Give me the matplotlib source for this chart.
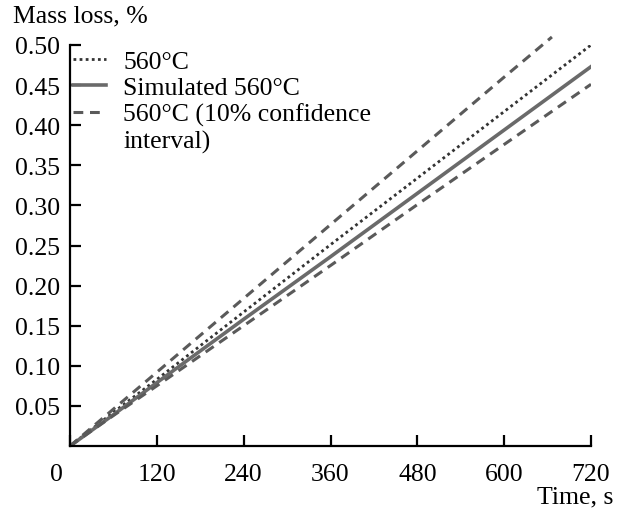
import matplotlib.pyplot as plt
from matplotlib.transforms import ScaledTranslation

plt.rcParams['font.family'] = ['Liberation Serif', 'DejaVu Serif']

# data
time_s = [0, 60, 120, 240, 360, 480, 600, 720]
exp_560 = [0.0, 0.042, 0.083, 0.167, 0.251, 0.334, 0.417, 0.500]
sim_560 = [0.0, 0.039, 0.079, 0.158, 0.236, 0.315, 0.394, 0.473]
time_upper = [0, 60, 120, 240, 360, 480, 600, 666]
upper_560 = [0.0, 0.046, 0.092, 0.184, 0.276, 0.368, 0.460, 0.510]
lower_560 = [0.0, 0.038, 0.075, 0.150, 0.225, 0.301, 0.376, 0.451]

xticks = [0, 120, 240, 360, 480, 600, 720]
yticks = [0.05, 0.10, 0.15, 0.20, 0.25, 0.30, 0.35, 0.40, 0.45, 0.50]

fs = 18.5

fig = plt.figure(figsize=(6.23, 5.10), dpi=100)
ax = fig.add_axes([70 / 623, 63 / 510, 521 / 623, 401 / 510])

ax.plot(time_s, exp_560, color='#333333', lw=2.0, linestyle=(0, (1, 1.2)), label='560°C')
ax.plot(time_s, sim_560, color='#6a6a6a', lw=2.6, label='Simulated 560°C')
ax.plot(time_upper, upper_560, color='#5a5a5a', lw=2.2, linestyle=(0, (3.2, 2.2)),
        label='560°C (10% confidence', clip_on=False)
ax.plot(time_s, lower_560, color='#5a5a5a', lw=2.2, linestyle=(0, (3.2, 2.2)))
ax.plot([], [], color='none', label='interval)')

ax.set_xlim(0, 720)
ax.set_ylim(0, 0.5)
ax.set_xticks(xticks)
ax.set_xticklabels([str(t) for t in xticks])
ax.set_yticks(yticks)
ax.set_yticklabels(['%.2f' % v for v in yticks])
ax.spines['top'].set_visible(False)
ax.spines['right'].set_visible(False)
for s in ['left', 'bottom']:
    ax.spines[s].set_linewidth(1.6)
ax.tick_params(direction='in', length=8, width=1.6, labelsize=fs)
ax.tick_params(axis='y', pad=7)
ax.tick_params(axis='x', pad=12)

# the "0" label sits left of the origin
lab0 = ax.get_xticklabels()[0]
lab0.set_transform(lab0.get_transform() + ScaledTranslation(-14 / 100, 0, fig.dpi_scale_trans))

fig.text(13 / 623, 1 - 16 / 510, 'Mass loss, %', fontsize=fs, va='center', ha='left')
fig.text(613 / 623, 1 - 497 / 510, 'Time, s', fontsize=fs, va='center', ha='right')

ax.legend(loc='upper left', bbox_to_anchor=(-0.004, 1.0), frameon=False, fontsize=fs,
          handlelength=1.3, handletextpad=0.65, labelspacing=0.13,
          borderaxespad=0, borderpad=0.2)

fig.savefig('out.png', dpi=100)
